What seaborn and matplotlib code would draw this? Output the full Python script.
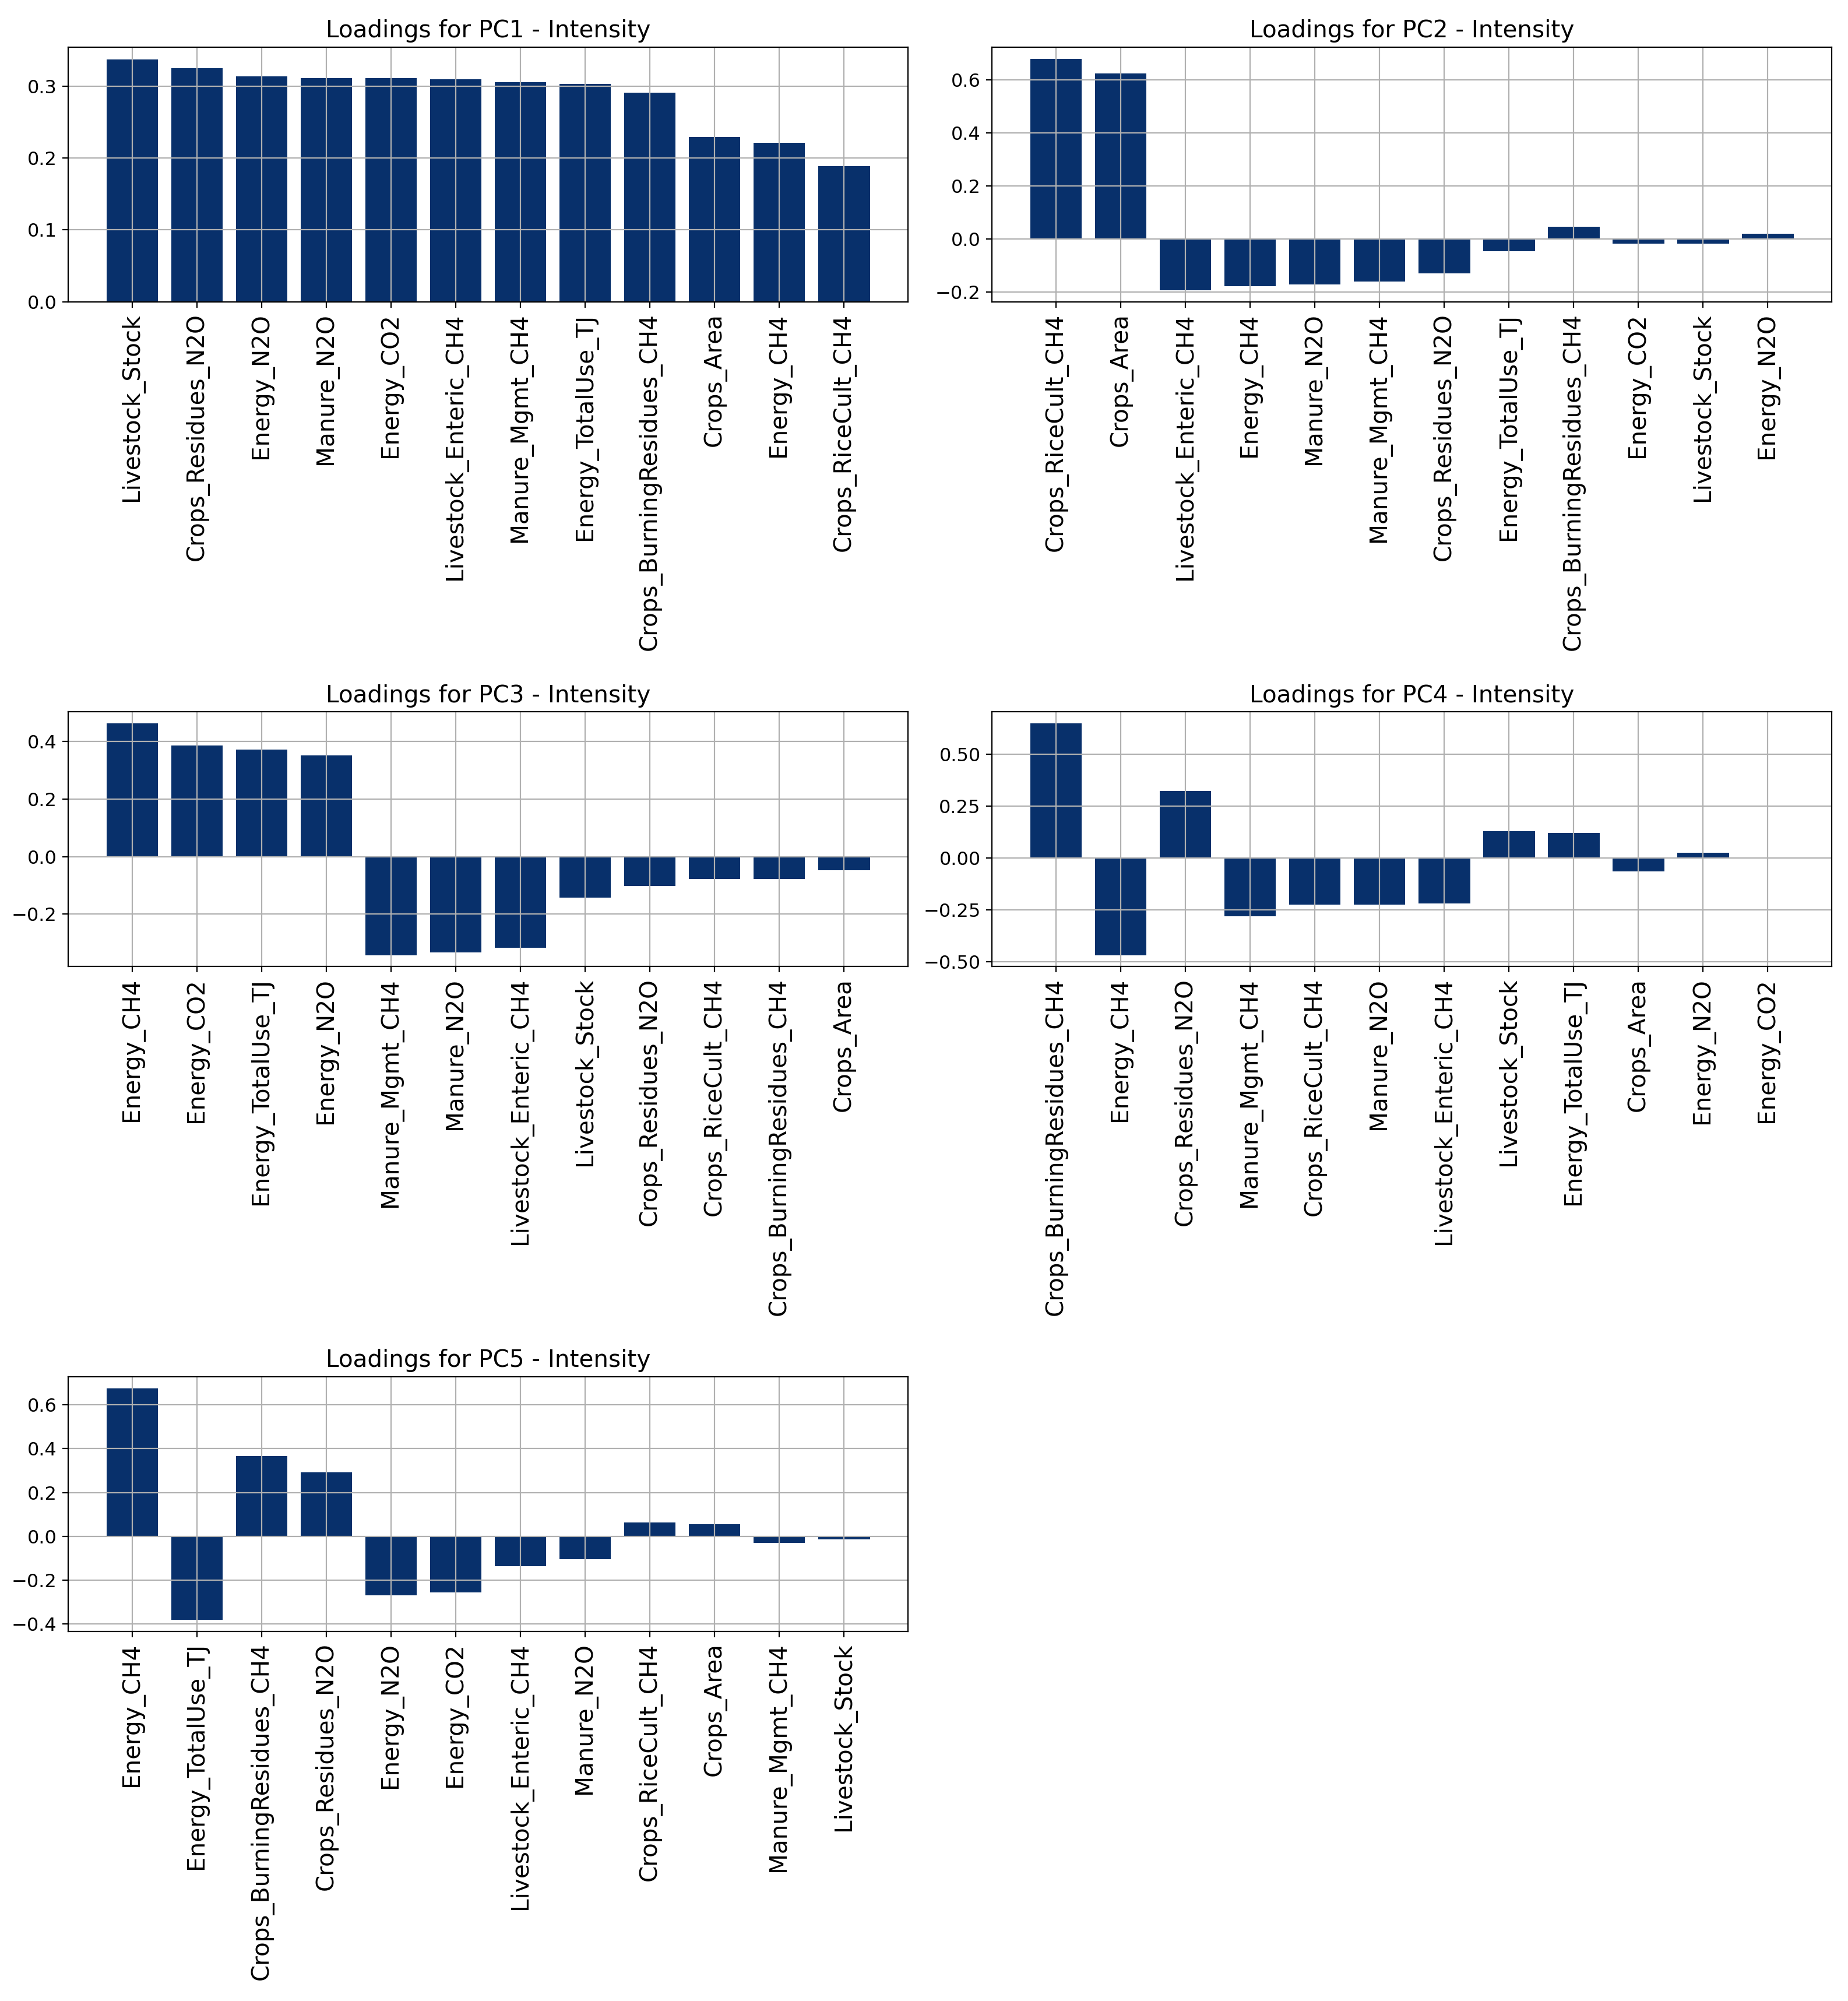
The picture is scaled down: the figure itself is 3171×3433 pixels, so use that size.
import numpy as np
import pandas as pd
import matplotlib
matplotlib.use('Agg')
import matplotlib.pyplot as plt
import seaborn as sns

# Значения нагрузок главных компонент

pc1_features = ['Livestock_Stock', 'Crops_Residues_N2O', 'Energy_N2O', 'Manure_N2O',
                'Energy_CO2', 'Livestock_Enteric_CH4', 'Manure_Mgmt_CH4', 'Energy_TotalUse_TJ',
                'Crops_BurningResidues_CH4', 'Crops_Area', 'Energy_CH4', 'Crops_RiceCult_CH4']
pc1_values = [0.337, 0.325, 0.313, 0.311, 0.311, 0.309, 0.305, 0.303, 0.291, 0.229, 0.221, 0.189]

pc2_features = ['Crops_RiceCult_CH4', 'Crops_Area', 'Livestock_Enteric_CH4', 'Energy_CH4',
                'Manure_N2O', 'Manure_Mgmt_CH4', 'Crops_Residues_N2O', 'Energy_TotalUse_TJ',
                'Crops_BurningResidues_CH4', 'Energy_CO2', 'Livestock_Stock', 'Energy_N2O']
pc2_values = [0.679, 0.624, -0.194, -0.178, -0.172, -0.161, -0.129, -0.047, 0.046, -0.019, -0.019, 0.019]

pc3_features = ['Energy_CH4', 'Energy_CO2', 'Energy_TotalUse_TJ', 'Energy_N2O',
                'Manure_Mgmt_CH4', 'Manure_N2O', 'Livestock_Enteric_CH4', 'Livestock_Stock',
                'Crops_Residues_N2O', 'Crops_RiceCult_CH4', 'Crops_BurningResidues_CH4', 'Crops_Area']
pc3_values = [0.463, 0.387, 0.373, 0.352, -0.343, -0.333, -0.318, -0.143, -0.103, -0.078, -0.078, -0.048]

pc4_features = ['Crops_BurningResidues_CH4', 'Energy_CH4', 'Crops_Residues_N2O', 'Manure_Mgmt_CH4',
                'Crops_RiceCult_CH4', 'Manure_N2O', 'Livestock_Enteric_CH4', 'Livestock_Stock',
                'Energy_TotalUse_TJ', 'Crops_Area', 'Energy_N2O', 'Energy_CO2']
pc4_values = [0.649, -0.469, 0.323, -0.282, -0.226, -0.226, -0.220, 0.128, 0.121, -0.066, 0.024, 0.001]

pc5_features = ['Energy_CH4', 'Energy_TotalUse_TJ', 'Crops_BurningResidues_CH4', 'Crops_Residues_N2O',
                'Energy_N2O', 'Energy_CO2', 'Livestock_Enteric_CH4', 'Manure_N2O',
                'Crops_RiceCult_CH4', 'Crops_Area', 'Manure_Mgmt_CH4', 'Livestock_Stock']
pc5_values = [0.675, -0.381, 0.366, 0.293, -0.269, -0.255, -0.137, -0.105, 0.064, 0.056, -0.029, -0.015]

components = ['PC1', 'PC2', 'PC3', 'PC4', 'PC5']
features = [pc1_features, pc2_features, pc3_features, pc4_features, pc5_features]
values = [pc1_values, pc2_values, pc3_values, pc4_values, pc5_values]

bar_color = '#08306b'

fig, axes = plt.subplots(3, 2, figsize=(3171 / 200, 3433 / 200), dpi=200)
axes = axes.flatten()

for i, pc in enumerate(components):
    ax = axes[i]
    df = pd.DataFrame({'feature': features[i], 'loading': values[i]})
    sns.barplot(data=df, x='feature', y='loading', color=bar_color, saturation=1, width=0.8, ax=ax)
    # вернуть обычные пределы и сетку matplotlib
    ax.autoscale(enable=True, axis='x')
    ax.margins(x=0.05)
    ax.autoscale_view()
    ax.grid(True)
    ax.set_title(f'Loadings for {pc} - Intensity', fontsize=14.6)
    ax.set_xlabel('')
    ax.set_ylabel('')
    ax.tick_params(axis='x', labelrotation=90, labelsize=14.6)
    ax.tick_params(axis='y', labelsize=11.5)

fig.delaxes(axes[5])

plt.subplots_adjust(left=0.0369, right=0.9912, top=0.9764, bottom=0.1847, wspace=0.1, hspace=1.61)
plt.savefig('out.png', dpi=200)
